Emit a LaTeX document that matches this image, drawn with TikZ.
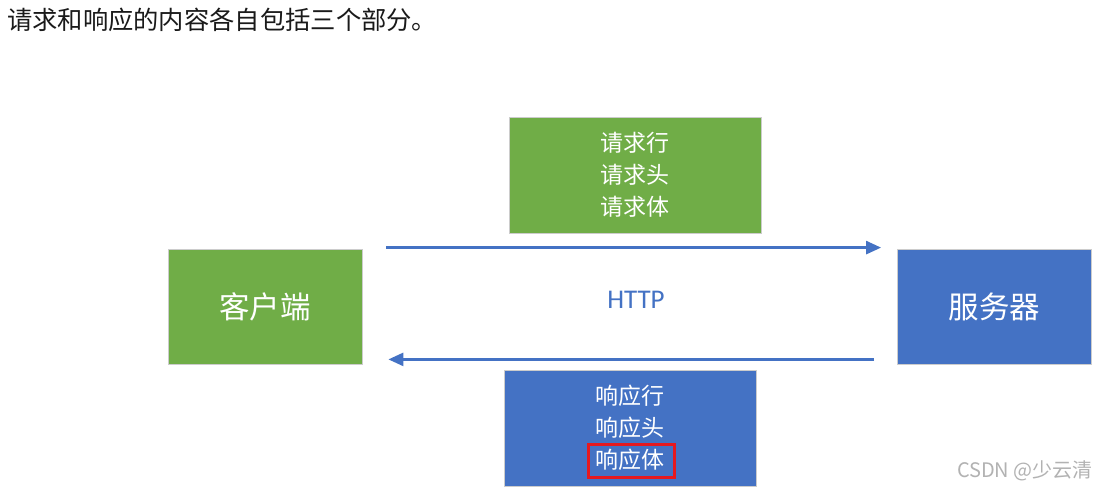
\documentclass[tikz,border=0pt]{standalone}
\usepackage{fontspec}
\newfontfamily\cjk{Noto Sans CJK SC}
\newfontfamily\latinsans{Carlito}
\usetikzlibrary{positioning,calc,arrows.meta}

\definecolor{boxgreen}{HTML}{70AD47}
\definecolor{boxblue}{HTML}{4472C4}
\definecolor{markred}{HTML}{E5191F}
\definecolor{captiontext}{HTML}{1A1A1A}

\begin{document}
\begin{tikzpicture}[
    x=1pt, y=-1pt,
    party/.style={rectangle, draw=black!20, line width=0.8pt, minimum width=194pt, minimum height=115pt, text=white, font=\cjk\fontsize{30.5}{34}\selectfont},
    msg/.style={rectangle, draw=black!20, line width=0.8pt, minimum width=252pt, minimum height=116pt, text=white, align=center, font=\cjk\fontsize{23}{32}\selectfont},
    arr/.style={-{Triangle[length=15pt,width=13pt]}, line width=2.6pt, draw=boxblue}
]
    \useasboundingbox[fill=white] (0,0) rectangle (1109,494);

    % --- caption line ---
    \node[anchor=west, inner sep=0pt, text=captiontext, font=\cjk\fontsize{25.3}{28}\selectfont] (caption) at (7,20) {请求和响应的内容各自包括三个部分。};

    % --- the two parties ---
    \node[party, fill=boxgreen] (client) at (265,306.5) {客户端};
    \node[party, fill=boxblue] (server) at (994.5,306.5) {服务器};

    % --- request / response contents ---
    \node[msg, fill=boxgreen] (request) at (635,175) {请求行\\请求头\\请求体};
    \node[msg, fill=boxblue] (response) at (630,428) {响应行\\响应头\\响应体};
    % highlight of the response body
    \node[draw=markred, line width=2.8pt, minimum width=86pt, minimum height=33pt, inner sep=0pt] (bodymark) at (631.5,461) {};

    % --- HTTP exchange ---
    \draw[arr, shorten <=24pt, shorten >=16pt] ([yshift=1pt]client.north east) -- ([yshift=1pt]server.north west);
    \draw[arr, shorten <=23pt, shorten >=26pt] ([yshift=5pt]server.south west) -- ([yshift=5pt]client.south east);
    \node[text=boxblue, font=\latinsans\fontsize{27}{30}\selectfont] (http) at (636,300) {HTTP};

    % watermark
    \node[anchor=east, inner sep=0pt, text=black!30, font=\cjk\fontsize{20}{22}\selectfont] (mark) at (1093,471) {CSDN @少云清};
\end{tikzpicture}
\end{document}
